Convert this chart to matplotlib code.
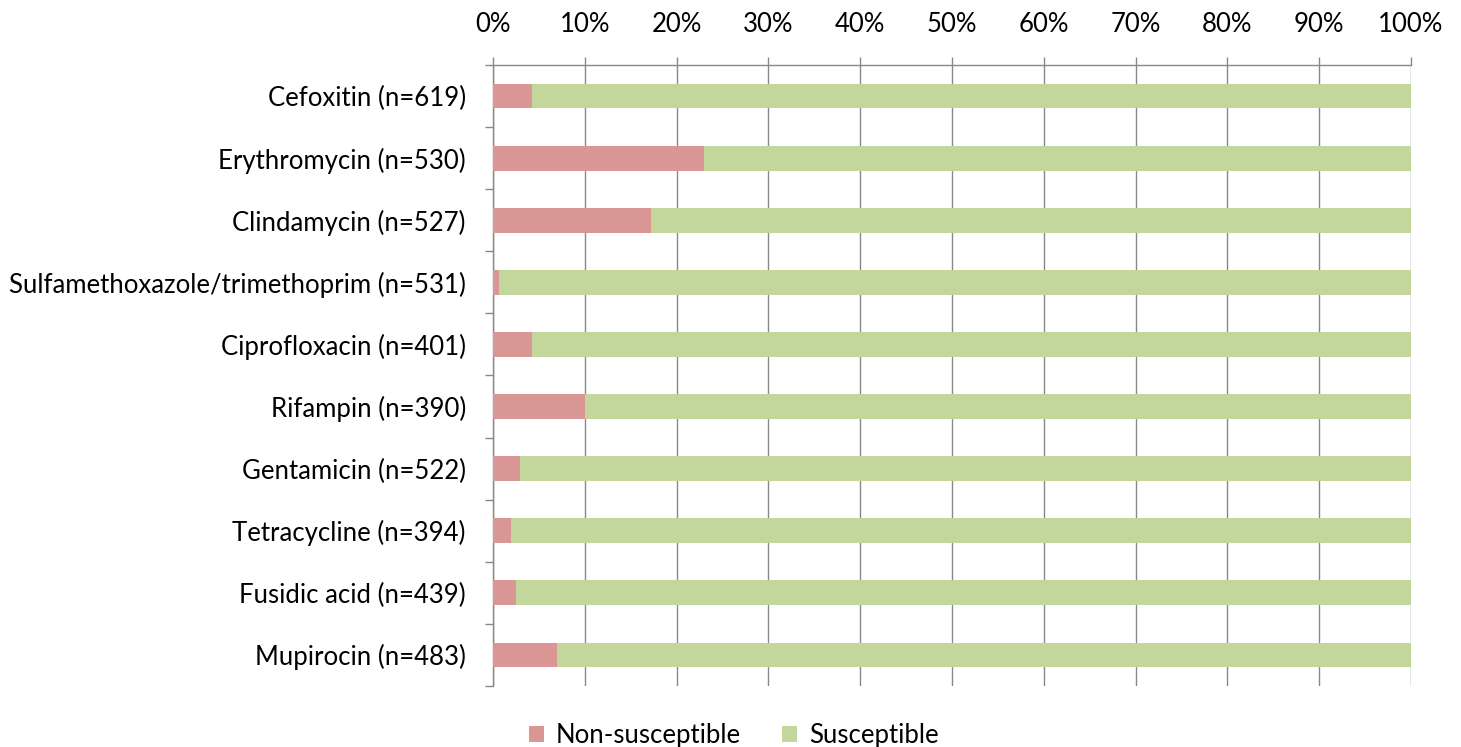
import numpy as np
import matplotlib.pyplot as plt
from matplotlib.ticker import PercentFormatter

drugs = ['Cefoxitin (n=619)', 'Erythromycin (n=530)', 'Clindamycin (n=527)',
         'Sulfamethoxazole/trimethoprim (n=531)', 'Ciprofloxacin (n=401)',
         'Rifampin (n=390)', 'Gentamicin (n=522)', 'Tetracycline (n=394)',
         'Fusidic acid (n=439)', 'Mupirocin (n=483)']
non_susceptible = [4.3, 23.0, 17.2, 0.7, 4.2, 10.0, 3.0, 2.0, 2.5, 7.0]
susceptible = [100 - v for v in non_susceptible]

plt.rcParams['font.family'] = ['Lato', 'DejaVu Sans']

fig = plt.figure(figsize=(14.61, 7.47), dpi=100)
ax = fig.add_axes([0.3374, 0.0817, 0.6284, 0.8313])

y = np.arange(len(drugs))
ax.barh(y, non_susceptible, height=0.4, color='#D99694', label='Non-susceptible', zorder=3)
ax.barh(y, susceptible, left=non_susceptible, height=0.4, color='#C3D69B',
        label='Susceptible', zorder=3)

ax.set_xlim(0, 100)
ax.set_ylim(len(drugs) - 0.5, -0.5)
ax.xaxis.tick_top()
ax.set_xticks(np.arange(0, 101, 10))
ax.xaxis.set_major_formatter(PercentFormatter(decimals=0))
ax.tick_params(axis='x', length=6, width=1, color='#888888', pad=14.5, labelsize=18.5)
ax.grid(axis='x', color='#888888', linewidth=1, zorder=0)

ax.set_yticks(y)
ax.set_yticklabels(drugs)
ax.set_yticks(np.arange(-0.5, len(drugs), 1), minor=True)
ax.tick_params(axis='y', which='major', length=0, pad=19.5, labelsize=18.5)
ax.tick_params(axis='y', which='minor', length=6, width=1, color='#888888')

for s in ['right', 'bottom']:
    ax.spines[s].set_visible(False)
for s in ['top', 'left']:
    ax.spines[s].set_color('#888888')
    ax.spines[s].set_linewidth(1)

fig.legend(loc='lower center', bbox_to_anchor=(0.502, -0.032), ncol=2, frameon=False,
           fontsize=18.5, handlelength=0.6, handleheight=0.6, columnspacing=1.6,
           handletextpad=0.45)

fig.savefig('out.png', dpi=100)
